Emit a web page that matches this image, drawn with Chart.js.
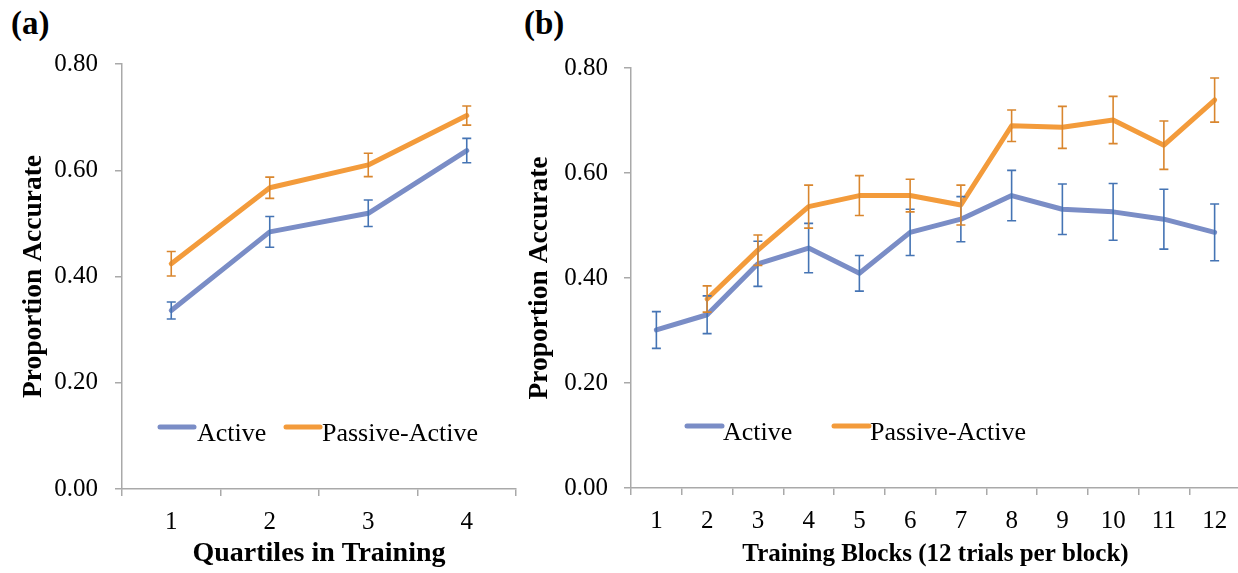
<!DOCTYPE html>
<html>
<head>
<meta charset="utf-8">
<script src="https://cdn.jsdelivr.net/npm/chart.js@4/dist/chart.umd.min.js"></script>
<style>
  html, body { margin:0; padding:0; background:#fff; overflow:hidden; width:1238px; height:573px; }
  .panel { position:absolute; top:0; }
  .tag { position:absolute; font-family:"Liberation Serif", serif; font-weight:bold; font-size:33px; color:#000; line-height:1; }
</style>
</head>
<body>
<div class="tag" style="left:11px; top:7px;">(a)</div>
<div class="tag" style="left:524px; top:7px;">(b)</div>
<div class="panel" style="left:0px;"><canvas id="chartA" width="520" height="573"></canvas></div>
<div class="panel" style="left:505px;"><canvas id="chartB" width="740" height="573"></canvas></div>
<script>
// ---- Data ----
const quartiles = ["1", "2", "3", "4"];
const activeA = [0.336, 0.484, 0.519, 0.637];
const activeAErr = [0.016, 0.029, 0.025, 0.023];
const passiveA = [0.424, 0.567, 0.610, 0.703];
const passiveAErr = [0.023, 0.020, 0.022, 0.018];

const blocks = ["1","2","3","4","5","6","7","8","9","10","11","12"];
const activeB = [0.301, 0.330, 0.427, 0.457, 0.409, 0.487, 0.512, 0.557, 0.531, 0.526, 0.512, 0.487];
const activeBErr = [0.035, 0.036, 0.043, 0.047, 0.034, 0.044, 0.043, 0.048, 0.048, 0.054, 0.057, 0.054];
const passiveB = [null, 0.360, 0.453, 0.536, 0.557, 0.557, 0.539, 0.690, 0.687, 0.701, 0.653, 0.739];
const passiveBErr = [null, 0.025, 0.029, 0.041, 0.038, 0.031, 0.038, 0.030, 0.040, 0.045, 0.046, 0.042];

const yTicks = [0, 0.2, 0.4, 0.6, 0.8];
const seriesNames = ["Active", "Passive-Active"];

// ---- Styles ----
const SERIF = '"Liberation Serif", "Times New Roman", serif';
const activeColor = '#7A8DC6';
const activeErrColor = '#4574B4';
const passiveColor = '#F39B3B';
const passiveErrColor = '#D9862E';
const axisColor = '#A9A9A9';

const errorBarPlugin = {
  id: 'errorBars',
  afterDatasetsDraw(chart) {
    const ctx = chart.ctx;
    const yScale = chart.scales.y;
    chart.data.datasets.forEach((ds, i) => {
      const meta = chart.getDatasetMeta(i);
      if (!ds.errors) return;
      ctx.save();
      ctx.strokeStyle = ds.errColor;
      ctx.lineWidth = 1.6;
      meta.data.forEach((pt, j) => {
        const v = ds.data[j], e = ds.errors[j];
        if (v == null || e == null) return;
        const x = pt.x;
        const yTop = yScale.getPixelForValue(v + e);
        const yBot = yScale.getPixelForValue(v - e);
        ctx.beginPath();
        ctx.moveTo(x, yTop); ctx.lineTo(x, yBot);
        ctx.moveTo(x - 4.5, yTop); ctx.lineTo(x + 4.5, yTop);
        ctx.moveTo(x - 4.5, yBot); ctx.lineTo(x + 4.5, yBot);
        ctx.stroke();
      });
      ctx.restore();
    });
  }
};

const legendPlugin = {
  id: 'inlineLegend',
  afterDraw(chart, args, opts) {
    const ctx = chart.ctx;
    ctx.save();
    ctx.font = '26px ' + SERIF;
    ctx.textBaseline = 'alphabetic';
    ctx.fillStyle = '#000';
    opts.items.forEach((it, i) => {
      const ds = chart.data.datasets[i];
      ctx.strokeStyle = ds.borderColor;
      ctx.lineWidth = 5;
      ctx.lineCap = 'round';
      ctx.beginPath();
      ctx.moveTo(it.x1, it.y); ctx.lineTo(it.x2, it.y);
      ctx.stroke();
      ctx.fillText(ds.label, it.tx, it.ty);
    });
    ctx.restore();
  }
};

function makeChart(id, labels, aVals, aErr, pVals, pErr, cfg) {
  return new Chart(document.getElementById(id), {
    type: 'line',
    data: {
      labels: labels,
      datasets: [
        { label: seriesNames[0], data: aVals, errors: aErr, errColor: activeErrColor,
          borderColor: activeColor, backgroundColor: activeColor, borderWidth: 5,
          pointRadius: 0, tension: 0, borderJoinStyle: 'round', borderCapStyle: 'round', spanGaps: false },
        { label: seriesNames[1], data: pVals, errors: pErr, errColor: passiveErrColor,
          borderColor: passiveColor, backgroundColor: passiveColor, borderWidth: 5,
          pointRadius: 0, tension: 0, borderJoinStyle: 'round', borderCapStyle: 'round', spanGaps: false }
      ]
    },
    options: {
      responsive: false,
      animation: false,
      events: [],
      layout: { padding: cfg.padding },
      plugins: {
        legend: { display: false },
        tooltip: { enabled: false },
        inlineLegend: { items: cfg.legend }
      },
      scales: {
        x: {
          type: 'category',
          offset: true,
          grid: { offset: true, drawOnChartArea: false, drawTicks: true, tickLength: 7, color: axisColor, lineWidth: 1.5 },
          border: { color: axisColor, width: 1.5 },
          ticks: { color: '#000', font: { family: SERIF, size: 25 }, padding: 11, maxRotation: 0, autoSkip: false },
          title: { display: true, text: cfg.xTitle, color: '#000',
                   font: { family: SERIF, size: cfg.xTitleSize, weight: 'bold', lineHeight: 1.2 },
                   padding: { top: 0, bottom: cfg.xTitlePad } },
          afterFit(scale) { scale.height = cfg.xHeight; }
        },
        y: {
          min: 0, max: 0.8,
          afterBuildTicks(scale) { scale.ticks = yTicks.map(v => ({ value: v })); },
          grid: { drawOnChartArea: false, drawTicks: true, tickLength: 7, color: axisColor, lineWidth: 1.5 },
          border: { color: axisColor, width: 1.5 },
          ticks: { color: '#000', font: { family: SERIF, size: 25 }, padding: cfg.yTickPad,
                   callback: v => Number(v).toFixed(2) },
          title: { display: true, text: 'Proportion Accurate', color: '#000',
                   font: { family: SERIF, size: 27.5, weight: 'bold', lineHeight: 1.2 },
                   padding: { top: cfg.yTitlePad, bottom: 0 } },
          afterFit(scale) { scale.width = cfg.yWidth; }
        }
      }
    },
    plugins: [errorBarPlugin, legendPlugin]
  });
}

makeChart('chartA', quartiles, activeA, activeAErr, passiveA, passiveAErr, {
  padding: { left: 0, right: 4, top: 64, bottom: 0 },
  xHeight: 84, yWidth: 122, yTickPad: 17, yTitlePad: 17,
  xTitle: 'Quartiles in Training', xTitleSize: 28, xTitlePad: 2,
  legend: [
    { x1: 160, x2: 194, y: 427, tx: 197, ty: 441 },
    { x1: 286, x2: 320, y: 427, tx: 322, ty: 441 }
  ]
});

makeChart('chartB', blocks, activeB, activeBErr, passiveB, passiveBErr, {
  padding: { left: 0, right: 5, top: 68, bottom: 0 },
  xHeight: 85, yWidth: 126, yTickPad: 16, yTitlePad: 18,
  xTitle: 'Training Blocks (12 trials per block)', xTitleSize: 25, xTitlePad: 3,
  legend: [
    { x1: 182, x2: 217, y: 426, tx: 218, ty: 440 },
    { x1: 329, x2: 364, y: 426, tx: 365, ty: 440 }
  ]
});
</script>
</body>
</html>
